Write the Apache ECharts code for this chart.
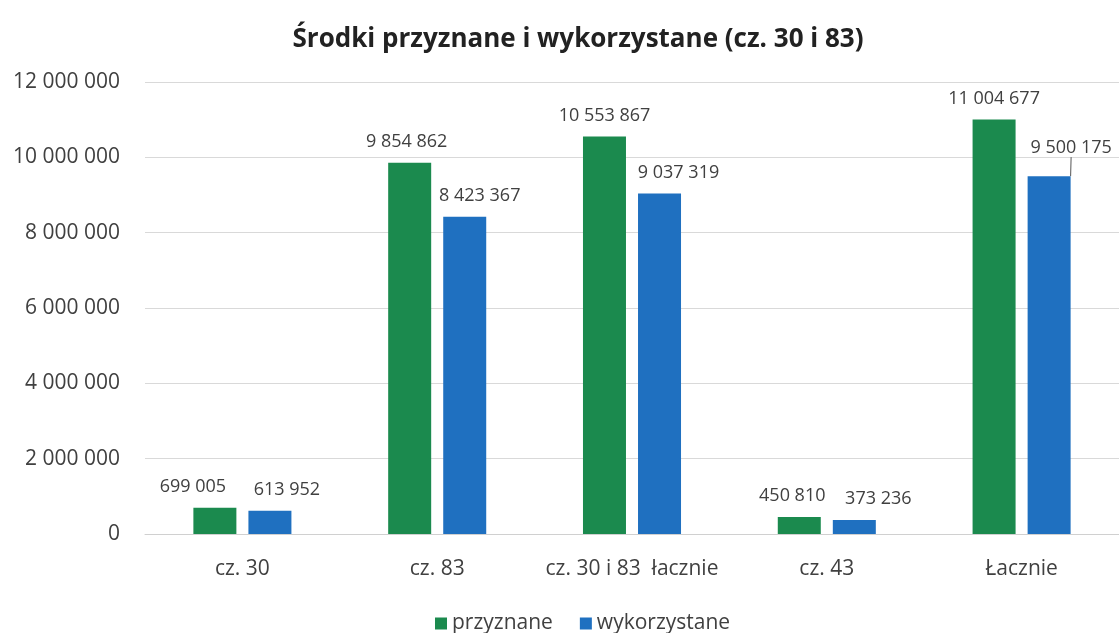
<!DOCTYPE html>
<html>
<head>
<meta charset="utf-8">
<script src="https://cdn.jsdelivr.net/npm/echarts@6/dist/echarts.min.js"></script>
<style>
html, body { margin: 0; padding: 0; background: #fff; }
#chart { width: 1119px; height: 633px; }
</style>
</head>
<body>
<div id="chart"></div>
<script>
const categories = ['cz. 30', 'cz. 83', 'cz. 30 i 83  łacznie', 'cz. 43', 'Łacznie'];
const przyznane = [699005, 9854862, 10553867, 450810, 11004677];
const wykorzystane = [613952, 8423367, 9037319, 373236, 9500175];
const yTicks = [0, 2000000, 4000000, 6000000, 8000000, 10000000, 12000000];

// horizontal nudges of the value labels, as in the original
const greenShift = [-22, -3, 0, -7, 0];
const blueShift = [17, 15, 19, 24, 22];

const font = '"Open Sans", "Noto Sans", sans-serif';

function fmt(v) {
	return String(v).replace(/\B(?=(\d{3})+(?!\d))/g, ' ');
}

let chart = echarts.init(document.getElementById('chart'));

let option = {
	backgroundColor: '#fff',
	title: {
		text: 'Środki przyznane i wykorzystane (cz. 30 i 83)',
		left: 573,
		textAlign: 'center',
		top: 22,
		textStyle: { fontFamily: font, fontSize: 26, fontWeight: 'bold', color: '#222' }
	},
	legend: {
		top: 608,
		left: 430,
		itemWidth: 12,
		itemHeight: 12,
		itemGap: 27,
		icon: 'rect',
		textStyle: { fontFamily: font, fontSize: 21, color: '#404040' },
		data: ['przyznane', 'wykorzystane']
	},
	grid: { left: 145, right: 0, top: 82, bottom: 99, containLabel: false },
	xAxis: {
		type: 'category',
		data: categories,
		axisTick: { show: false },
		axisLine: { lineStyle: { color: '#d0d0d0' } },
		axisLabel: { fontFamily: font, fontSize: 21, color: '#404040', margin: 25, interval: 0, hideOverlap: false }
	},
	yAxis: {
		type: 'value',
		min: yTicks[0],
		max: yTicks[yTicks.length - 1],
		interval: 2000000,
		axisLabel: { fontFamily: font, fontSize: 21, color: '#404040', margin: 25, formatter: fmt },
		splitLine: { lineStyle: { color: '#d9d9d9' } }
	},
	series: [
		{
			name: 'przyznane',
			type: 'bar',
			data: przyznane,
			barWidth: 43,
			barGap: '28%',
			itemStyle: { color: '#1b8a4e' },
			label: {
				show: true, position: 'top', distance: 12,
				fontFamily: font, fontSize: 18, color: '#404040',
				formatter: p => fmt(p.value)
			},
			labelLayout: p => ({ dx: greenShift[p.dataIndex] })
		},
		{
			name: 'wykorzystane',
			type: 'bar',
			data: wykorzystane.map((v, i) => i === 4 ? { value: v, labelLine: { show: true } } : v),
			barWidth: 43,
			itemStyle: { color: '#1f70c0' },
			label: {
				show: true, position: 'top', distance: 12,
				fontFamily: font, fontSize: 18, color: '#404040',
				formatter: p => fmt(p.value)
			},
			labelLine: { show: false, lineStyle: { color: '#555', width: 1 } },
			labelLayout: p => ({ dx: blueShift[p.dataIndex], dy: p.dataIndex === 4 ? -7 : 0 })
		}
	]
};

chart.setOption(option);
</script>
</body>
</html>
